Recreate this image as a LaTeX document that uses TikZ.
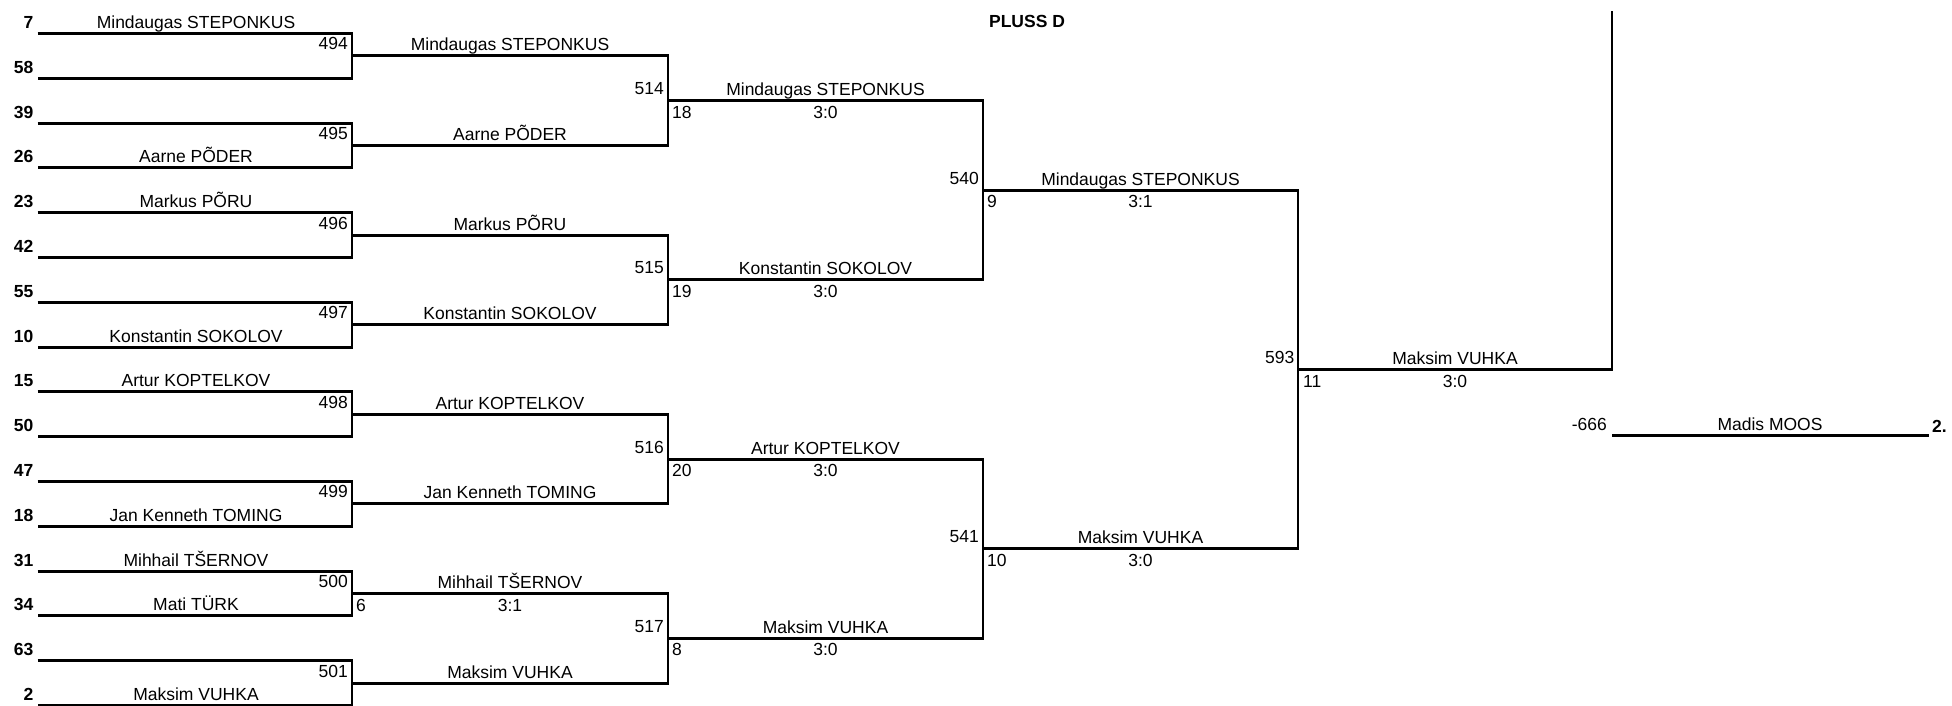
\documentclass[tikz,border=0pt]{standalone}
\usepackage{fontspec}
\setmainfont{Liberation Sans}
\begin{document}
\begin{tikzpicture}[x=1pt,y=-1pt,
  ln/.style={line width=2.9pt, line join=miter},
  txt/.style={font=\fontsize{17.5}{20}\selectfont, inner sep=0pt},
  nm/.style={txt, anchor=base},
  seed/.style={txt, font=\fontsize{17.5}{20}\selectfont\bfseries, anchor=base east},
  mno/.style={txt, anchor=base east},
  uno/.style={txt, anchor=base west},
  sc/.style={txt, anchor=base}]
\useasboundingbox (0,0) rectangle (1952,706);
% ---------- geometry ----------
% round 1 brackets
\foreach \k in {0,...,7}{
  \pgfmathsetmacro\ya{33.5+89.6*\k}
  \pgfmathsetmacro\yb{\ya+44.8}
  \coordinate (r1a\k) at (37.5,\ya);
  \coordinate (r1b\k) at (37.5,\yb);
  \coordinate (v1\k) at (352,\yb);
  \draw[ln] (r1a\k) -| (v1\k) -- (r1b\k);
}
% round 2 brackets
\foreach \k in {0,...,3}{
  \pgfmathsetmacro\ya{55.9+179.2*\k}
  \pgfmathsetmacro\yb{\ya+89.6}
  \coordinate (r2a\k) at (352,\ya);
  \coordinate (r2b\k) at (352,\yb);
  \coordinate (v2\k) at (668,\yb);
  \draw[ln] (r2a\k) -| (v2\k) -- (r2b\k);
}
% round 3 brackets
\foreach \k in {0,1}{
  \pgfmathsetmacro\ya{100.7+358.4*\k}
  \pgfmathsetmacro\yb{\ya+179.2}
  \coordinate (r3a\k) at (668,\ya);
  \coordinate (r3b\k) at (668,\yb);
  \coordinate (v3\k) at (983,\yb);
  \draw[ln] (r3a\k) -| (v3\k) -- (r3b\k);
}
% round 4 bracket
\coordinate (r4a) at (983,190.3);
\coordinate (r4b) at (983,548.7);
\coordinate (v4) at (1298,548.7);
\draw[ln] (r4a) -| (v4) -- (r4b);
% round 5 and final
\coordinate (r5) at (1298,369.5);
\coordinate (ftop) at (1612,11);
\draw[ln] (r5) -| (ftop);
\coordinate (ma) at (1612,435.5);
\coordinate (mb) at (1929,435.5);
\draw[ln] (ma) -- (mb);
% ---------- texts ----------
\node[txt, font=\fontsize{17.5}{20}\selectfont\bfseries, anchor=base] (title) at (1027,27.5) {PLUSS D};
% seeds
\foreach \s [count=\i from 0] in {7,58,39,26,23,42,55,10,15,50,47,18,31,34,63,2}{
  \pgfmathsetmacro\yy{33.5+44.8*\i-5}
  \node[seed] (seed\i) at (33.5,\yy) {\s};
}
% round 1 names
\node[nm] (p0)  at (196,28.5)  {Mindaugas STEPONKUS};
\node[nm] (p3)  at (196,162.9) {Aarne PÕDER};
\node[nm] (p4)  at (196,207.7) {Markus PÕRU};
\node[nm] (p7)  at (196,342.1) {Konstantin SOKOLOV};
\node[nm] (p8)  at (196,386.9) {Artur KOPTELKOV};
\node[nm] (p11) at (196,521.3) {Jan Kenneth TOMING};
\node[nm] (p12) at (196,566.1) {Mihhail TŠERNOV};
\node[nm] (p13) at (196,610.9) {Mati TÜRK};
\node[nm] (p15) at (196,700.5) {Maksim VUHKA};
% round 2 match numbers and names
\foreach \m/\n [count=\i from 0] in {494/Mindaugas STEPONKUS,495/Aarne PÕDER,496/Markus PÕRU,497/Konstantin SOKOLOV,498/Artur KOPTELKOV,499/Jan Kenneth TOMING,500/Mihhail TŠERNOV,501/Maksim VUHKA}{
  \pgfmathsetmacro\yy{55.9+89.6*\i}
  \node[mno] (m\m) at (348,\yy-6) {\m};
  \node[nm] (q\i) at (510,\yy-5) {\n};
}
\node[uno] (u500) at (356,593.5+17.5) {6};
\node[sc] (s500) at (510,593.5+17.5) {3:1};
% round 3
\foreach \m/\n/\u [count=\i from 0] in {514/Mindaugas STEPONKUS/18,515/Konstantin SOKOLOV/19,516/Artur KOPTELKOV/20,517/Maksim VUHKA/8}{
  \pgfmathsetmacro\yy{100.7+179.2*\i}
  \node[mno] (m\m) at (664,\yy-6) {\m};
  \node[nm] (t\i) at (825.5,\yy-5) {\n};
  \node[uno] (u\m) at (672,\yy+17.5) {\u};
  \node[sc] (s\m) at (825.5,\yy+17.5) {3:0};
}
% round 4
\node[mno] (m540) at (979,184.3) {540};
\node[nm] (f0) at (1140.5,185.3) {Mindaugas STEPONKUS};
\node[uno] (u540) at (987,207.8) {9};
\node[sc] (s540) at (1140.5,207.8) {3:1};
\node[mno] (m541) at (979,542.7) {541};
\node[nm] (f1) at (1140.5,543.7) {Maksim VUHKA};
\node[uno] (u541) at (987,566.2) {10};
\node[sc] (s541) at (1140.5,566.2) {3:0};
% round 5
\node[mno] (m593) at (1294.5,363.5) {593};
\node[nm] (w) at (1455,364.5) {Maksim VUHKA};
\node[uno] (u593) at (1303,387) {11};
\node[sc] (s593) at (1455,387) {3:0};
% Madis MOOS line
\node[mno] (m666) at (1607,430) {-666};
\node[nm] (mm) at (1770,430) {Madis MOOS};
\node[txt, font=\fontsize{17.5}{20}\selectfont\bfseries, anchor=base west] (pl) at (1932,432) {2.};
\end{tikzpicture}
\end{document}
